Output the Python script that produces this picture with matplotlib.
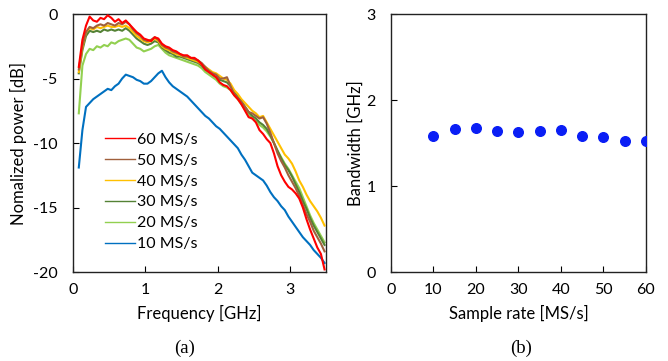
import numpy as np
import matplotlib
matplotlib.use("Agg")
import matplotlib.pyplot as plt

plt.rcParams['font.family'] = ['Lato', 'DejaVu Sans']

# Frequency grid (GHz) shared by all spectra
freq = [0.08, 0.13, 0.18, 0.23, 0.28, 0.33, 0.38, 0.43, 0.48, 0.53,
        0.58, 0.63, 0.68, 0.73, 0.78, 0.83, 0.88, 0.93, 0.98, 1.03,
        1.08, 1.13, 1.18, 1.23, 1.28, 1.33, 1.38, 1.43, 1.48, 1.53,
        1.58, 1.63, 1.68, 1.73, 1.78, 1.83, 1.88, 1.93, 1.98, 2.03,
        2.08, 2.13, 2.18, 2.23, 2.28, 2.33, 2.38, 2.43, 2.48, 2.53,
        2.58, 2.63, 2.68, 2.73, 2.78, 2.83, 2.88, 2.93, 2.98, 3.03,
        3.08, 3.13, 3.18, 3.23, 3.28, 3.33, 3.38, 3.43, 3.48]

p60 = [-4.1, -2.0, -0.9, -0.2, -0.5, -0.6, -0.3, -0.4, -0.1, -0.3,
       -0.6, -0.4, -0.7, -0.5, -0.8, -1.1, -1.4, -1.6, -1.9, -2.0,
       -2.1, -1.8, -1.9, -2.3, -2.5, -2.6, -2.8, -2.9, -3.1, -3.2,
       -3.2, -3.4, -3.4, -3.6, -3.9, -4.3, -4.5, -4.7, -4.9, -5.3,
       -5.5, -5.6, -5.9, -6.3, -6.6, -7.0, -7.5, -8.0, -8.1, -8.4,
       -9.0, -9.3, -9.7, -10.0, -10.8, -11.8, -12.5, -13.0, -13.4, -13.6,
       -13.9, -14.3, -15.0, -15.9, -16.7, -17.4, -18.1, -18.6, -19.8]

p50 = [-4.3, -2.5, -1.4, -1.0, -1.1, -0.9, -0.8, -0.9, -0.7, -0.8,
       -0.9, -0.7, -0.8, -0.6, -0.8, -1.2, -1.5, -1.7, -2.0, -2.1,
       -2.0, -1.8, -2.0, -2.4, -2.6, -2.7, -2.9, -3.0, -3.1, -3.3,
       -3.3, -3.4, -3.5, -3.6, -3.8, -4.1, -4.4, -4.6, -4.7, -5.0,
       -5.0, -4.9, -5.6, -6.2, -6.5, -6.8, -7.2, -7.6, -7.7, -7.9,
       -8.1, -8.0, -8.5, -9.2, -10.0, -10.8, -11.4, -11.9, -12.5, -13.0,
       -13.5, -14.1, -14.8, -15.5, -16.1, -16.8, -17.3, -17.8, -18.4]

p40 = [-4.5, -2.6, -1.4, -1.1, -1.2, -1.0, -1.1, -1.0, -0.9, -1.0,
       -1.0, -0.9, -1.0, -0.9, -1.1, -1.4, -1.7, -1.9, -2.1, -2.2,
       -2.1, -1.9, -2.1, -2.5, -2.7, -2.8, -3.0, -3.1, -3.2, -3.3,
       -3.4, -3.5, -3.6, -3.7, -3.9, -4.1, -4.3, -4.5, -4.6, -4.8,
       -5.0, -5.1, -5.4, -5.9, -6.2, -6.6, -6.9, -7.2, -7.5, -7.7,
       -8.0, -7.9, -8.4, -8.9, -9.4, -9.9, -10.4, -10.9, -11.2, -11.6,
       -12.2, -12.9, -13.4, -14.0, -14.5, -14.9, -15.3, -15.8, -16.4]

p30 = [-4.6, -2.8, -1.7, -1.3, -1.4, -1.3, -1.4, -1.2, -1.3, -1.2,
       -1.3, -1.2, -1.3, -1.1, -1.3, -1.6, -1.9, -2.1, -2.3, -2.4,
       -2.3, -2.1, -2.2, -2.6, -2.8, -3.0, -3.1, -3.3, -3.3, -3.4,
       -3.5, -3.6, -3.7, -3.8, -4.0, -4.3, -4.5, -4.7, -4.9, -5.1,
       -5.2, -5.3, -5.6, -6.0, -6.4, -6.8, -7.2, -7.6, -7.9, -8.1,
       -8.4, -8.6, -8.9, -9.4, -10.0, -10.6, -11.2, -11.7, -12.1, -12.6,
       -13.2, -13.8, -14.5, -15.1, -15.8, -16.4, -16.9, -17.4, -17.9]

p20 = [-7.7, -4.0, -3.1, -2.7, -2.8, -2.5, -2.6, -2.4, -2.5, -2.2,
       -2.3, -2.1, -2.0, -1.9, -2.0, -2.3, -2.6, -2.7, -2.9, -2.8,
       -2.7, -2.5, -2.4, -2.7, -3.0, -3.2, -3.3, -3.4, -3.5, -3.6,
       -3.7, -3.8, -3.9, -4.0, -4.2, -4.5, -4.7, -4.9, -5.1, -5.4,
       -5.6, -5.7, -5.9, -6.3, -6.6, -7.0, -7.4, -7.8, -8.1, -8.3,
       -8.6, -8.8, -9.1, -9.5, -10.0, -10.6, -11.1, -11.6, -12.0, -12.5,
       -13.0, -13.5, -14.2, -14.9, -15.6, -16.2, -16.7, -17.2, -17.7]

p10 = [-11.9, -9.0, -7.2, -6.9, -6.6, -6.4, -6.2, -6.0, -5.8, -5.9,
       -5.6, -5.4, -5.0, -4.7, -4.8, -4.9, -5.1, -5.2, -5.4, -5.4,
       -5.2, -4.9, -4.6, -4.4, -4.9, -5.3, -5.6, -5.8, -6.0, -6.2,
       -6.4, -6.7, -7.0, -7.3, -7.6, -7.9, -8.1, -8.4, -8.7, -8.9,
       -9.2, -9.5, -9.8, -10.1, -10.4, -10.9, -11.3, -11.8, -12.3, -12.5,
       -12.7, -12.9, -13.3, -13.8, -14.2, -14.5, -14.9, -15.2, -15.7, -16.1,
       -16.5, -16.9, -17.3, -17.6, -17.9, -18.3, -18.6, -18.9, -19.3]

series_labels = ["60 MS/s", "50 MS/s", "40 MS/s", "30 MS/s", "20 MS/s", "10 MS/s"]
series_colors = ["#FF0000", "#A0603C", "#FFC000", "#548235", "#92D050", "#0070C0"]

# Bandwidth vs sample rate
sample_rate = [10, 15, 20, 25, 30, 35, 40, 45, 50, 55, 60]
bandwidth = [1.58, 1.66, 1.67, 1.64, 1.63, 1.645, 1.65, 1.58, 1.575, 1.52, 1.525]

fig = plt.figure(figsize=(6.68, 3.61), dpi=100)
ax1 = fig.add_axes([0.1093, 0.2465, 0.3787, 0.7147])
ax2 = fig.add_axes([0.5853, 0.2465, 0.3817, 0.7147])

curves = [p60, p50, p40, p30, p20, p10]
handles = []
for y, lab, col, z in zip(curves, series_labels, series_colors, [6, 5, 4, 3, 2, 1]):
    h, = ax1.plot(freq, y, color=col, lw=1.5, label=lab, zorder=z)
    handles.append(h)

ax1.set_xlim(0, 3.5)
ax1.set_ylim(-20, 0)
ax1.set_xticks([0, 1, 2, 3])
ax1.set_yticks([-20, -15, -10, -5, 0])
ax1.set_yticklabels(["-20", "-15", "-10", "-5", "0"])
ax1.set_xlabel("Frequency [GHz]", fontsize=12, labelpad=6)
ax1.set_ylabel("Nomalized power [dB]", fontsize=12, labelpad=4)
leg = ax1.legend(handles=handles, loc="upper left", bbox_to_anchor=(0.1, 0.565),
                 frameon=False, fontsize=11.5, handlelength=1.9, handletextpad=0.1,
                 labelspacing=0.42, borderaxespad=0)
for line in leg.legend_handles:
    line.set_linewidth(1.0)

ax2.scatter(sample_rate, bandwidth, s=48, color="#0A1EF5", zorder=3)
ax2.set_xlim(0, 60)
ax2.set_ylim(0, 3)
ax2.set_xticks(range(0, 61, 10))
ax2.set_yticks([0, 1, 2, 3])
ax2.set_xlabel("Sample rate [MS/s]", fontsize=12, labelpad=6)
ax2.set_ylabel("Bandwidth [GHz]", fontsize=12, labelpad=2)

for ax in (ax1, ax2):
    ax.tick_params(direction="in", length=4, width=0.8, labelsize=11.5)
    ax.tick_params(axis="y", pad=11)
    ax.tick_params(axis="x", pad=8)
    for s in ax.spines.values():
        s.set_linewidth(1.0)
        s.set_color("#222222")

fig.text(185 / 668, 1 - 348 / 361, "(a)", ha="center", va="center",
         fontsize=13.5, family="Liberation Serif")
fig.text(521 / 668, 1 - 348 / 361, "(b)", ha="center", va="center",
         fontsize=13.5, family="Liberation Serif")

fig.savefig("out.png", dpi=100)
